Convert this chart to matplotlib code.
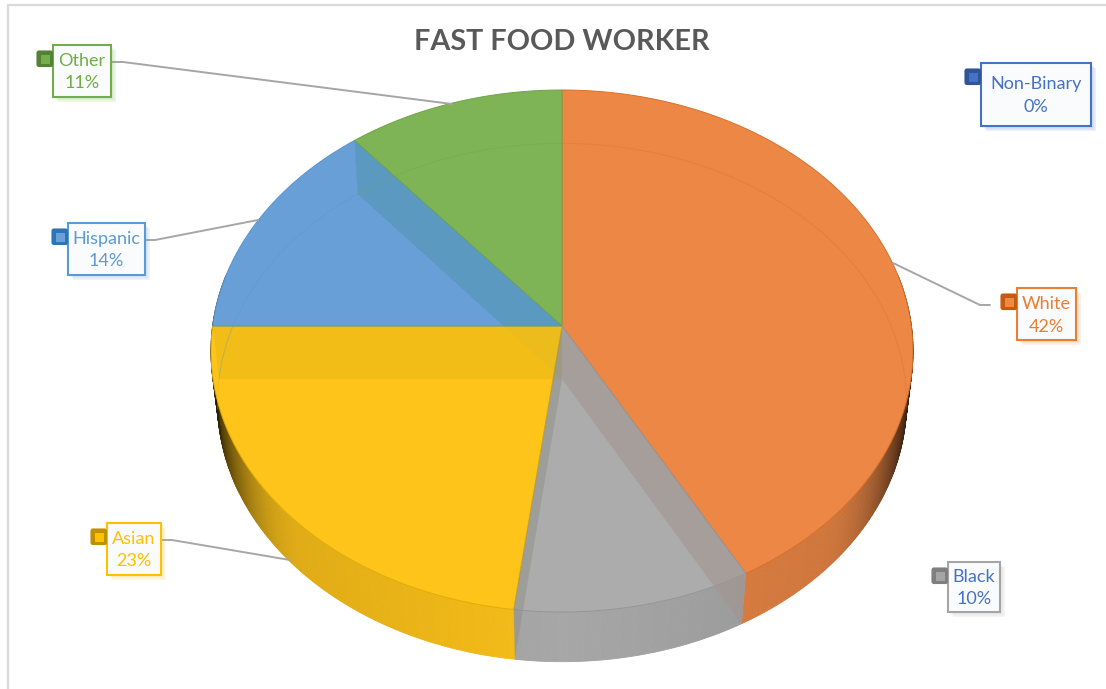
import numpy as np
import matplotlib
matplotlib.use("Agg")
import matplotlib.pyplot as plt
from matplotlib.patches import Polygon, Rectangle, FancyBboxPatch

plt.rcParams['font.family'] = ['Lato', 'DejaVu Sans']

# data
categories = ["Non-Binary", "White", "Black", "Asian", "Hispanic", "Other"]
values = [0, 42, 10, 23, 14, 11]
labels = ["0%", "42%", "10%", "23%", "14%", "11%"]

# styles per category
face_colors = ["#4472C4", "#EC8745", "#ACACAC", "#FFC419", "#689FD6", "#7FB456"]
edge_colors = ["#2F5597", "#D8702A", "#969696", "#E0AC08", "#5A94CC", "#6FA548"]
text_colors = ["#4472C4", "#ED7D31", "#4472C4", "#FFC000", "#5B9BD5", "#70AD47"]
box_colors = ["#4472C4", "#ED7D31", "#A5A5A5", "#FFC000", "#5B9BD5", "#70AD47"]
swatch_colors = ["#2F5597", "#C55A11", "#7F7F7F", "#BF9000", "#2E75B6", "#548235"]
inner_colors = ["#4472C4", "#ED8A45", "#A5A5A5", "#FFC000", "#6A9FD8", "#75AE4C"]
# tint of the cut face seen through the neighbouring slice
cut_colors = [None, "#A29590", "#8F8F88", "#B59A10", "#4E94A8", None]
cut_alpha = [0, 0.6, 0.5, 0.16, 0.4, 0]

# label layout: box left, top, right, bottom
boxes = {
    "Non-Binary": (981, 63, 1091, 126),
    "White": (1017, 288, 1076, 340),
    "Black": (948, 562, 1000, 612),
    "Asian": (107, 523, 161, 575),
    "Hispanic": (68, 223, 145, 275),
    "Other": (53, 45, 111, 97),
}
leaders = {
    "White": ([990, 980, 893], [305, 305, 263]),
    "Asian": ([162, 172, 290], [540, 540, 560]),
    "Hispanic": ([146, 155, 258], [240, 240, 220]),
    "Other": ([112, 123, 452], [62, 62, 104]),
}

# perspective of the two pie discs
CX = 562
TOP = dict(cy=326, a=349.4, b=258.6, p=0.0958)
BOTTOM = dict(cy=379, a=343.0, b=257.0, p=0.0909)


def project(theta, disc):
    # theta is clockwise from 12 o'clock, in radians
    u = np.sin(theta)
    v = -np.cos(theta)
    d = 1 - disc['p'] * v
    return CX + disc['a'] * u / d, disc['cy'] + disc['b'] * v / d


def shade(color, f):
    rgb = np.array(matplotlib.colors.to_rgb(color))
    return tuple(np.clip(rgb * f, 0, 1))


def wall_factor(theta):
    u = abs(np.sin(theta))
    return max(0.12, 0.97 - 0.13 * u - 0.72 * (max(0, u - 0.7) / 0.3) ** 2)


fig = plt.figure(figsize=(11.06, 6.89), dpi=100)
ax = fig.add_axes([0, 0, 1, 1])
ax.set_xlim(0, 1106)
ax.set_ylim(689, 0)
ax.axis('off')

# chart frame
ax.plot([7.5, 7.5, 1106], [689, 5, 5], color="#D9D9D9", lw=1.6, zorder=1)

total = sum(values)
edges = 2 * np.pi * np.cumsum([0] + values) / total

# outer wall, only the near half shows
for i in range(len(values)):
    if values[i] == 0:
        continue
    steps = np.arange(edges[i], edges[i + 1], np.radians(0.5))
    steps = np.append(steps, edges[i + 1])
    for t0, t1 in zip(steps[:-1], steps[1:]):
        if np.cos((t0 + t1) / 2) > 0.2:
            continue
        xa, ya = project(t0, TOP)
        xb, yb = project(t1, TOP)
        xc, yc = project(t1, BOTTOM)
        xd, yd = project(t0, BOTTOM)
        c = shade(face_colors[i], wall_factor((t0 + t1) / 2))
        ax.add_patch(Polygon([(xa, ya), (xb, yb), (xc, yc), (xd, yd)],
                             fc=c, ec=c, lw=0.6, zorder=2))

# top face
faces = {}
for i in range(len(values)):
    if values[i] == 0:
        continue
    th = np.linspace(edges[i], edges[i + 1], 200)
    x, y = project(th, TOP)
    pts = np.column_stack([np.r_[CX, x], np.r_[TOP['cy'], y]])
    faces[i] = Polygon(pts, fc=face_colors[i], ec=edge_colors[i], lw=0.7, zorder=3)
    ax.add_patch(faces[i])

# cut faces seen through the slices
for i in range(len(values)):
    if cut_colors[i] is None:
        continue
    t = edges[i + 1]
    xa, ya = project(t, TOP)
    xb, yb = project(t, BOTTOM)
    pts = [(CX, TOP['cy']), (xa, ya), (xb, yb), (CX, BOTTOM['cy'])]
    if categories[i] == "Hispanic":
        # strong inside its own slice, barely there over the yellow one
        band = Polygon(pts, fc=cut_colors[i], ec='none', alpha=cut_alpha[i], zorder=4)
        ax.add_patch(band)
        band.set_clip_path(faces[i])
        ax.add_patch(Polygon(pts, fc=cut_colors[i], ec='none', alpha=0.04, zorder=4))
    else:
        ax.add_patch(Polygon(pts, fc=cut_colors[i], ec='none', alpha=cut_alpha[i], zorder=4))

# rim of the lower disc
for i in range(len(values)):
    if values[i] == 0:
        continue
    th = np.linspace(edges[i], edges[i + 1], 200)
    th = th[-np.cos(th) < 0.12]
    if len(th) < 2:
        continue
    x, y = project(th, BOTTOM)
    ax.plot(x, y, color=edge_colors[i], lw=0.7, alpha=0.35, zorder=4)

# leader lines
for name, (lx, ly) in leaders.items():
    ax.plot(lx, ly, color="#A6A6A6", lw=1.4, zorder=5, solid_capstyle='round')

# data labels
for i, name in enumerate(categories):
    x0, y0, x1, y1 = boxes[name]
    for k in range(6, 0, -1):
        ax.add_patch(Rectangle((x0 + k * 0.9, y0 + k * 0.9), x1 - x0, y1 - y0,
                               fc=box_colors[i], ec='none', alpha=0.05, zorder=6))
    ax.add_patch(Rectangle((x0, y0), x1 - x0, y1 - y0, fc="#FAFBFC",
                           ec=box_colors[i], lw=1.5, zorder=7))
    ax.add_patch(FancyBboxPatch((x0 - 16, y0 + 6), 15.5, 15.5, boxstyle="round,pad=0,rounding_size=2",
                                fc=swatch_colors[i], ec=swatch_colors[i], lw=0.8, zorder=7))
    ax.add_patch(Rectangle((x0 - 12.5, y0 + 9.5), 9, 9, fc=inner_colors[i], ec='none', zorder=8))
    xm = (x0 + x1) / 2
    ym = (y0 + y1) / 2
    ax.text(xm, ym - 10, name, color=text_colors[i], fontsize=13, ha='center', va='center', zorder=9)
    ax.text(xm, ym + 12.5, labels[i], color=text_colors[i], fontsize=13, ha='center', va='center', zorder=9)

ax.text(562, 41.5, "FAST FOOD WORKER", color="#595959", fontsize=20.7, fontweight='bold',
        ha='center', va='center', zorder=9)

fig.savefig("out.png", dpi=100)
